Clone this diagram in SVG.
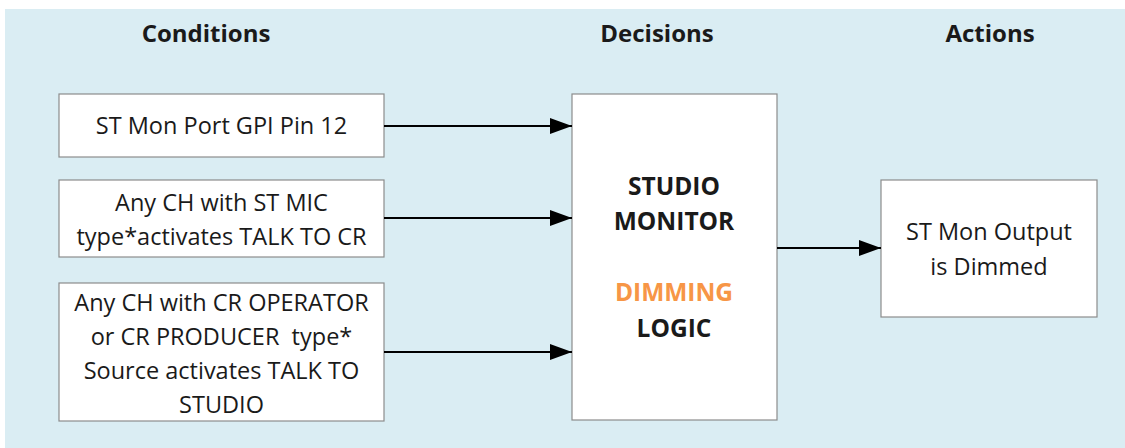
<svg xmlns="http://www.w3.org/2000/svg" width="1125" height="448" viewBox="0 0 1125 448">
<defs>
<style>
.bg{fill:#DAEDF3}
.box{fill:#FFFFFF;stroke:#8C8C8C;stroke-width:1.2}
.t{font-family:"Open Sans","Liberation Sans",sans-serif;font-size:23.5px;fill:#1A1A1A;text-anchor:middle;white-space:pre}
.h{font-family:"Open Sans","Liberation Sans",sans-serif;font-size:24px;font-weight:bold;fill:#1A1A1A;text-anchor:middle}
.m{font-size:24.5px}
.c{fill:none;stroke:#000;stroke-width:2}
</style>
<marker id="ah" markerWidth="22" markerHeight="16" refX="22" refY="8" orient="auto" markerUnits="userSpaceOnUse">
<path d="M0,0 L22,8 L0,16 Z" fill="#000"/>
</marker>
</defs>
<rect class="bg" x="5" y="9" width="1120" height="439"/>
<g id="headers">
<text class="h" x="206" y="42">Conditions</text>
<text class="h" x="657" y="42">Decisions</text>
<text class="h" x="990" y="42">Actions</text>
</g>
<g id="cond1">
<rect class="box" x="59" y="94" width="325" height="63"/>
<text class="t" x="221.5" y="134">ST Mon Port GPI Pin 12</text>
</g>
<g id="cond2">
<rect class="box" x="59" y="180" width="325" height="77"/>
<text class="t" x="221.5" y="211">Any CH with ST MIC</text>
<text class="t" x="221.5" y="245">type*activates TALK TO CR</text>
</g>
<g id="cond3">
<rect class="box" x="59" y="283" width="325" height="138"/>
<text class="t" x="221.5" y="311">Any CH with CR OPERATOR</text>
<text class="t" x="221.5" y="345">or CR PRODUCER  type*</text>
<text class="t" x="221.5" y="379">Source activates TALK TO</text>
<text class="t" x="221.5" y="413">STUDIO</text>
</g>
<g id="logic">
<rect class="box" x="572" y="94" width="205" height="326"/>
<text class="h m" x="674" y="195">STUDIO</text>
<text class="h m" x="674" y="230">MONITOR</text>
<text class="h m" x="674" y="301" style="fill:#F79646">DIMMING</text>
<text class="h m" x="674" y="337">LOGIC</text>
</g>
<g id="action">
<rect class="box" x="881" y="180" width="216" height="137"/>
<text class="t" x="989" y="240">ST Mon Output</text>
<text class="t" x="989" y="275">is Dimmed</text>
</g>
<g id="connectors">
<line class="c" x1="384" y1="126" x2="572" y2="126" marker-end="url(#ah)"/>
<line class="c" x1="384" y1="218" x2="572" y2="218" marker-end="url(#ah)"/>
<line class="c" x1="384" y1="352" x2="572" y2="352" marker-end="url(#ah)"/>
<line class="c" x1="777" y1="248" x2="881" y2="248" marker-end="url(#ah)"/>
</g>
</svg>
